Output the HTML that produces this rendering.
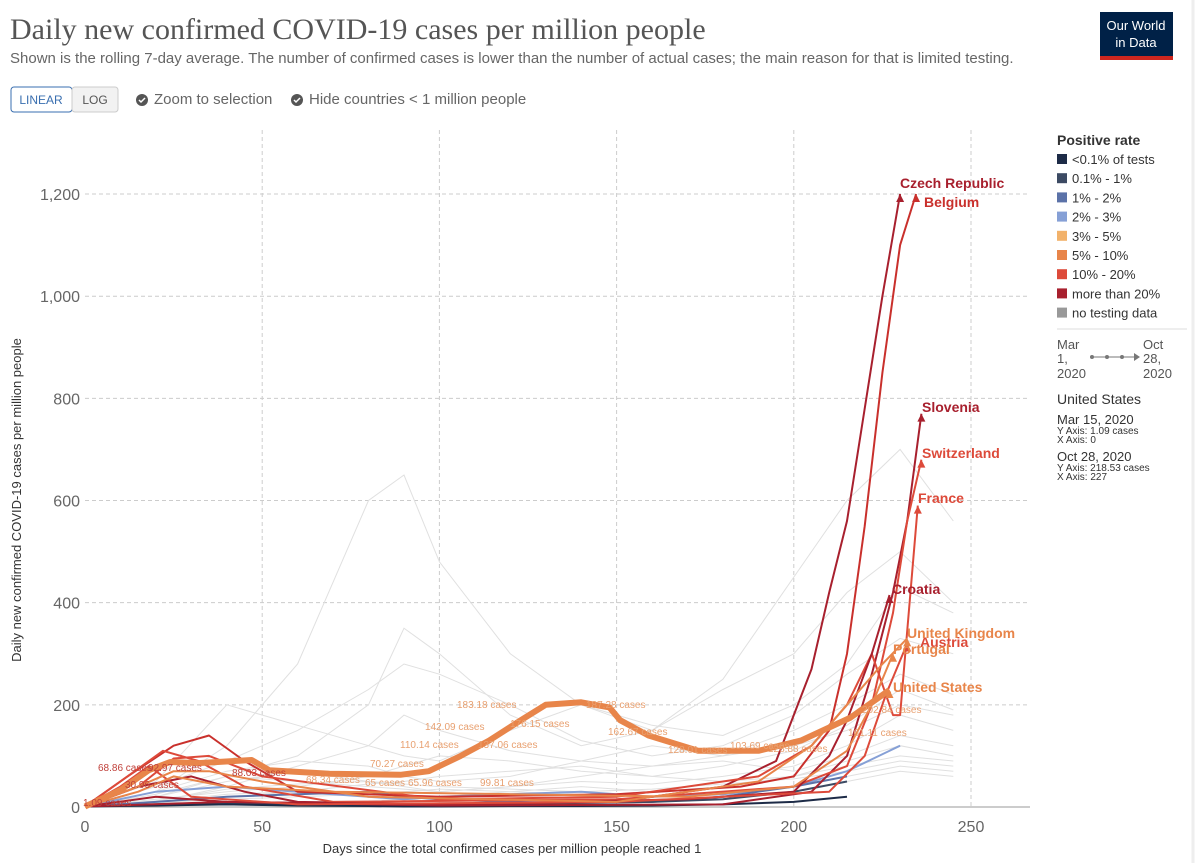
<!DOCTYPE html>
<html><head><meta charset="utf-8"><style>
body{margin:0;background:#fff;width:1200px;height:863px;overflow:hidden;font-family:"Liberation Sans",sans-serif}
svg text{font-family:"Liberation Sans",sans-serif}
svg text.serif{font-family:"Liberation Serif",serif}
</style></head><body>
<svg id="chart" width="1200" height="863" xmlns="http://www.w3.org/2000/svg">
<text class="serif" x="10" y="39" font-size="30" fill="#555">Daily new confirmed COVID-19 cases per million people</text>
<text x="10" y="63" font-size="15" fill="#666">Shown is the rolling 7-day average. The number of confirmed cases is lower than the number of actual cases; the main reason for that is limited testing.</text>
<g><rect x="1100" y="12" width="73" height="48" fill="#002147"/><rect x="1100" y="56" width="73" height="4" fill="#ce261e"/><text x="1136" y="30" font-size="13" fill="#fff" text-anchor="middle">Our World</text><text x="1136" y="47" font-size="13" fill="#fff" text-anchor="middle">in Data</text></g>
<g><rect x="11" y="87" width="61" height="25" rx="3" fill="#fff" stroke="#3a6fb0"/><text x="41" y="104" font-size="12" fill="#3a6fb0" text-anchor="middle">LINEAR</text></g>
<g><rect x="72" y="87" width="46" height="25" rx="3" fill="#f2f2f2" stroke="#ccc"/><text x="95" y="104" font-size="12" fill="#555" text-anchor="middle">LOG</text></g>
<g><circle cx="142" cy="100" r="6" fill="#555"/><path d="M139 100l2 2 4-4" stroke="#fff" stroke-width="1.5" fill="none"/><text x="154" y="104" font-size="15" fill="#666">Zoom to selection</text></g>
<g><circle cx="297" cy="100" r="6" fill="#555"/><path d="M294 100l2 2 4-4" stroke="#fff" stroke-width="1.5" fill="none"/><text x="309" y="104" font-size="15" fill="#666">Hide countries &lt; 1 million people</text></g>
<g id="grid"></g>
<g id="axes"></g>
<g id="bg"></g>
<g id="hl"></g>
<g id="lbl"></g>
<text transform="translate(21,500) rotate(-90)" font-size="13" fill="#333" text-anchor="middle">Daily new confirmed COVID-19 cases per million people</text>
<text x="512" y="853" font-size="13" fill="#333" text-anchor="middle">Days since the total confirmed cases per million people reached 1</text>
<g id="legend"></g>
<line x1="1057" y1="329" x2="1187" y2="329" stroke="#ddd"/>
<g font-size="13" fill="#555"><text x="1057" y="349">Mar</text><text x="1057" y="363">1,</text><text x="1057" y="378">2020</text><text x="1143" y="349">Oct</text><text x="1143" y="363">28,</text><text x="1143" y="378">2020</text><line x1="1090" y1="357" x2="1135" y2="357" stroke="#777"/><circle cx="1092" cy="357" r="2" fill="#777"/><circle cx="1107" cy="357" r="2" fill="#777"/><circle cx="1122" cy="357" r="2" fill="#777"/><path d="M1134 353l6 4-6 4z" fill="#777"/></g>
<g fill="#333"><text x="1057" y="404" font-size="14">United States</text><text x="1057" y="424" font-size="13">Mar 15, 2020</text><text x="1057" y="434" font-size="10">Y Axis: 1.09 cases</text><text x="1057" y="443" font-size="10">X Axis: 0</text><text x="1057" y="461" font-size="13">Oct 28, 2020</text><text x="1057" y="471" font-size="10">Y Axis: 218.53 cases</text><text x="1057" y="480" font-size="10">X Axis: 227</text></g>
<line x1="1193" y1="0" x2="1193" y2="863" stroke="#eee" stroke-width="3"/>
</svg>
<script>
const xTicks=[0,50,100,150,200,250];
const yTicks=[0,200,400,600,800,1000,1200];
const yTickLabels=["0","200","400","600","800","1,000","1,200"];
const legendLabels=["<0.1% of tests","0.1% - 1%","1% - 2%","2% - 3%","3% - 5%","5% - 10%","10% - 20%","more than 20%","no testing data"];
const legendColors=["#1d2b47","#3c4a63","#5b72a8","#86a0d6","#f2b26b","#e8854a","#dd4a3a","#a8202e","#999"];
const usDays=[0,10,18,24,32,47,52,69,89,97,106,114,123,130,140,148,151,159,173,190,202,216,227];
const usVals=[1,33,72,88,86,92,72,65,63,70,100,130,170,200,205,195,170,140,110,110,130,175,229];
const czDays=[0,15,30,45,60,100,150,180,195,205,210,215,220,225,230];
const czVals=[1,40,60,30,10,5,10,40,90,270,420,560,780,1000,1200];
const beDays=[0,12,25,35,45,60,100,150,185,200,210,215,220,225,230,234.5];
const beVals=[1,60,120,140,90,30,20,25,40,60,150,300,550,850,1100,1200];
const slDays=[0,20,40,100,180,205,215,222,228,232,236];
const slVals=[1,20,10,3,5,30,100,260,420,560,770];
const swDays=[0,12,22,32,45,70,150,200,215,222,228,232,236];
const swVals=[1,60,110,90,40,10,15,40,80,200,380,560,680];
const frDays=[0,15,25,35,50,100,150,190,205,215,222,228,230,235];
const frVals=[1,40,95,100,60,15,20,60,120,200,300,180,180,590];
const crDays=[0,40,100,170,200,210,215,222,227];
const crVals=[1,10,5,15,30,100,170,300,415];
const ukDays=[0,15,25,35,50,80,150,190,205,215,225,232];
const ukVals=[1,40,70,70,50,20,10,50,120,200,280,330];
const ptDays=[0,15,25,40,70,120,170,200,215,222,228];
const ptVals=[1,30,60,40,30,25,20,40,110,200,300];
const atDays=[0,10,18,30,60,150,210,220,226,232];
const atVals=[1,40,80,20,5,10,30,100,220,320];
const seriesList=[
 ["czech-republic",czDays,czVals,"#a8202e","Czech Republic",900,188],
 ["belgium",beDays,beVals,"#c9302c","Belgium",924,207],
 ["slovenia",slDays,slVals,"#a8202e","Slovenia",922,412],
 ["switzerland",swDays,swVals,"#dd4a3a","Switzerland",922,458],
 ["france",frDays,frVals,"#dd4a3a","France",918,503],
 ["croatia",crDays,crVals,"#a8202e","Croatia",892,594],
 ["austria",atDays,atVals,"#dd4a3a","Austria",920,647],
 ["united-kingdom",ukDays,ukVals,"#e8854a","United Kingdom",907,638],
 ["portugal",ptDays,ptVals,"#e8854a","Portugal",893,654],
 ["united-states",usDays,usVals,"#e8854a","United States",893,692]
];
const bgDays=[0,20,40,60,80,90,100,120,140,160,180,200,215,230,245];
const bgVals=[
 [1,30,120,280,600,650,480,300,200,150,250,450,600,700,560],
 [1,20,60,100,200,350,300,180,120,150,230,300,420,500,400],
 [1,50,200,160,120,100,90,150,200,160,140,200,280,430,380],
 [1,40,90,150,230,280,260,200,130,100,120,180,260,330,300],
 [1,10,40,80,120,180,150,110,90,80,100,150,200,260,220],
 [1,30,70,90,80,60,50,60,90,120,100,120,150,200,180],
 [1,15,30,40,60,80,100,90,70,60,80,110,160,230,190],
 [1,20,50,70,50,40,30,40,60,80,90,70,100,140,120],
 [1,5,20,30,45,50,60,70,80,60,50,60,90,120,100],
 [1,10,25,30,20,15,20,30,40,30,40,60,80,100,90],
 [1,8,15,20,25,30,35,30,25,20,30,40,60,80,70],
 [1,5,8,10,12,15,10,8,10,15,20,30,50,70,60],
 [1,25,60,50,40,35,30,40,50,45,60,80,120,180,150],
 [1,12,35,45,50,45,40,35,30,35,45,55,70,90,80]
];
const blueVals=[
 [1,30,40,30,20,15,20,25,30,20,25,40,70,120,0],
 [1,10,20,25,30,20,15,10,8,10,20,40,60,0,0],
 [1,5,8,5,3,2,3,5,8,10,15,30,50,0,0],
 [1,3,5,3,2,1,1,2,2,3,5,10,20,0,0]
];
const blueColors=["#86a0d6","#5b72a8","#3c4a63","#1d2b47"];
const labelVals=[1.09,30.96,68.86,92.97,88.03,68.34,65,65.96,70.27,110.14,142.09,99.81,137.06,176.15,183.18,187.28,162.67,128.01,103.69,128.88,161.11,202.84];
const labelPos=[[83,806],[125,788],[98,771],[148,771],[232,776],[306,783],[365,786],[408,786],[370,767],[400,748],[425,730],[480,786],[478,748],[510,727],[457,708],[586,708],[608,735],[668,753],[730,749],[768,752],[848,736],[862,713]];
const X=d=>85+d*3.544, Y=v=>807-v*0.5108;
const NS="http://www.w3.org/2000/svg";
function mk(p,t,a){const e=document.createElementNS(NS,t);for(const k in a)e.setAttribute(k,a[k]);p.appendChild(e);return e;}
const grid=document.getElementById('grid'),axes=document.getElementById('axes');
yTicks.forEach((v,i)=>{
 const l=mk(grid,'line',{x1:85,x2:1030,y1:Y(v),y2:Y(v),stroke:'#ccc','stroke-dasharray':'4,3'});
 
 
 const t=mk(axes,'text',{x:80,y:Y(v)+6,'font-size':16,fill:'#666','text-anchor':'end'});t.textContent=yTickLabels[i];
 
 
});
xTicks.forEach(d=>{
 if(d>0){const l=mk(grid,'line',{x1:X(d),x2:X(d),y1:130,y2:807,stroke:'#ccc','stroke-dasharray':'4,3'});
 
 }
 const t=mk(axes,'text',{x:X(d),y:832,'font-size':16,fill:'#666','text-anchor':'middle'});t.textContent=d;
 
 
});
mk(axes,'line',{x1:85,x2:1030,y1:807,y2:807,stroke:'#999'});
const pts=(ds,vs)=>ds.map((d,i)=>X(d).toFixed(1)+','+Y(vs[i]).toFixed(1)).join(' ');
const bg=document.getElementById('bg');
bgVals.forEach(vs=>{const p=mk(bg,'polyline',{points:pts(bgDays,vs),fill:'none',stroke:'#e0e0e0','stroke-width':1});
 
 });
blueVals.forEach((vs,i)=>{const n=vs.indexOf(0,1)>0?vs.indexOf(0,1):vs.length;const p=mk(bg,'polyline',{points:pts(bgDays.slice(0,n),vs.slice(0,n)),fill:'none',stroke:blueColors[i],'stroke-width':2});
 
 });
const hl=document.getElementById('hl');
seriesList.forEach(s=>{
 const [name,ds,vs,c,lab,lx,ly]=s;
 const p=mk(hl,'polyline',{points:pts(ds,vs),fill:'none',stroke:c,'stroke-width':name==='united-states'?6:2,'stroke-linejoin':'round'});
 
 
 const ex=X(ds[ds.length-1]),ey=Y(vs[vs.length-1]);
 const a=mk(hl,'path',{d:`M${ex-4} ${ey+8}L${ex} ${ey}L${ex+4} ${ey+8}Z`,fill:c});
 
 
 const t=mk(hl,'text',{x:lx,y:ly,'font-size':14,'font-weight':'bold',fill:c});t.textContent=lab;
 
 
});
const lbl=document.getElementById('lbl');
labelVals.forEach((v,i)=>{const t=mk(lbl,'text',{x:labelPos[i][0],y:labelPos[i][1],'font-size':10,fill:i<5?'#c0403a':'#e8a070'});t.textContent=v+' cases';
 
 });
const lg=document.getElementById('legend');
const lt=mk(lg,'text',{x:1057,y:145,'font-size':14,'font-weight':'bold',fill:'#333'});lt.textContent='Positive rate';


legendLabels.forEach((l,i)=>{const y=159+i*19.2;
 const r=mk(lg,'rect',{x:1057,y:y-5,width:10,height:10,fill:legendColors[i]});
 
 
 const t=mk(lg,'text',{x:1072,y:y+5,'font-size':13,fill:'#333'});t.textContent=l;
 
 });
</script>
</body></html>
